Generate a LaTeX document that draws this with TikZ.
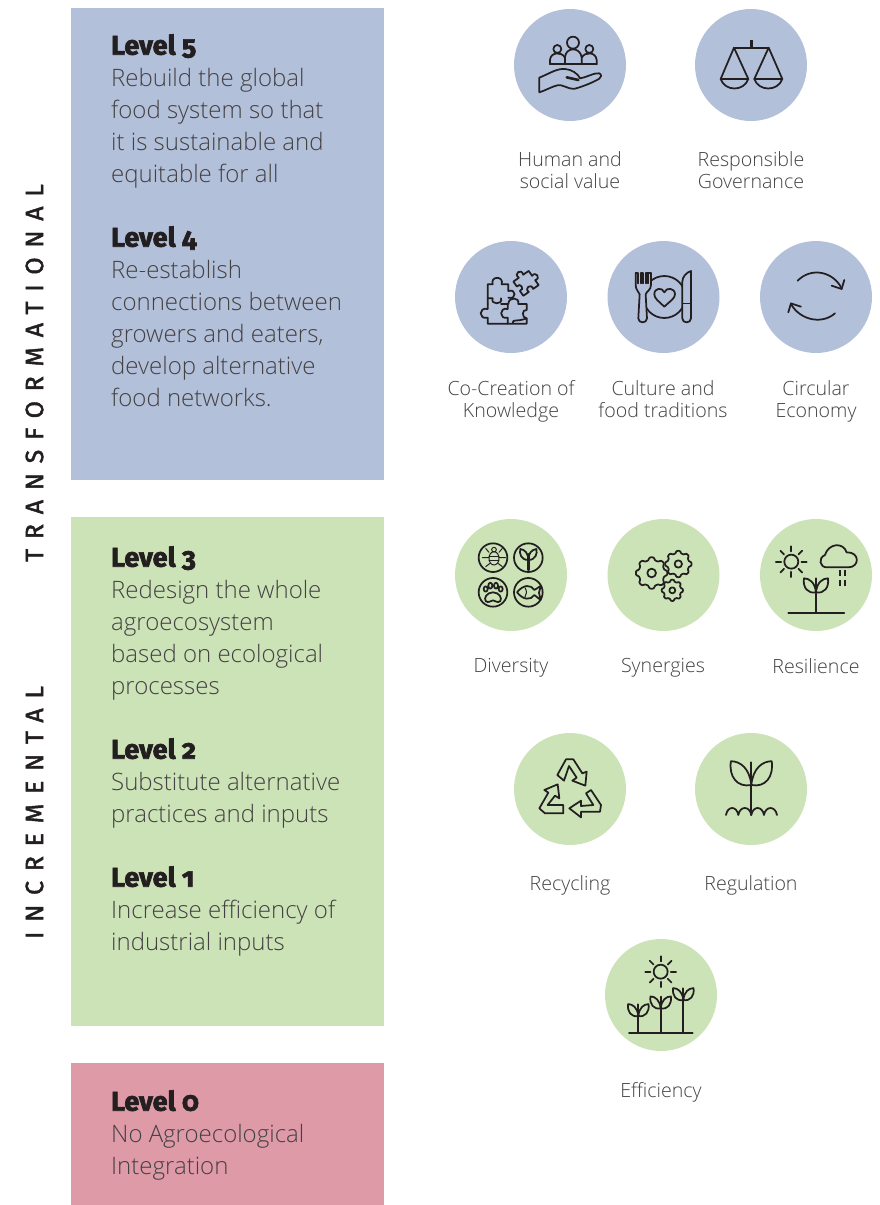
\documentclass[tikz,border=0pt]{standalone}
\usepackage{fontspec}
\setmainfont{Open Sans Light}
\newfontfamily\headfont[Numbers=OldStyle,BoldFeatures={FakeBold=2.5}]{Fira Sans}
\newfontfamily\sidefont[LetterSpace=39,FakeBold=1.8]{Fira Sans}
\definecolor{lvblue}{HTML}{B3C0DA}
\definecolor{lvgreen}{HTML}{CCE3B8}
\definecolor{lvred}{HTML}{DE9AA7}
\definecolor{ink}{HTML}{231F20}
\tikzset{
  panel/.style={draw=none,inner sep=0},
  bluecirc/.style={circle,fill=lvblue,minimum size=112pt,inner sep=0},
  greencirc/.style={circle,fill=lvgreen,minimum size=112pt,inner sep=0},
  bodytext/.style={anchor=north west,align=left,inner sep=0,text=ink!85,font=\fontsize{24}{32}\selectfont},
  iconlabel/.style={anchor=north,align=center,inner sep=0,text=ink!85,font=\fontsize{19.6}{22}\selectfont},
  sidelabel/.style={rotate=90,inner sep=0,text=ink,font=\fontsize{25}{25}\sidefont},
  icon/.style={draw=ink,line width=1.75pt,line join=round,line cap=round},
}
\newcommand{\lvh}[1]{{\color{ink}\headfont\bfseries\fontsize{27}{32}\selectfont #1}}
\newcommand{\mysun}[3]{\draw[icon] (#1,#2) circle (#3);
  \foreach \a in {0,45,...,315} {\draw[icon,shift={(#1,#2)}] (\a:#3*1.45) -- (\a:#3*2.2);}}
\newcommand{\mysprout}[3]{\begin{scope}[shift={(#1,#2)},scale=#3]
  \draw[icon] (0,0) .. controls (-25,5) and (-40,-15) .. (-36,-42) .. controls (-20,-42) and (-3,-30) .. (0,0);
  \draw[icon] (0,0) .. controls (25,5) and (40,-15) .. (36,-42) .. controls (20,-42) and (3,-30) .. (0,0);
\end{scope}}
\newcommand{\mygear}[4]{\draw[icon,shift={(#1,#2)}] plot[domain=0:356,samples=90,smooth] ({\x}:{#3+#3*0.1*tanh(2*cos(8*\x))}) -- cycle;
  \draw[icon] (#1,#2) circle (#4);}
\begin{document}
\begin{tikzpicture}[x=1pt,y=-1pt]
\useasboundingbox (0,0) rectangle (879,1205);
% panels
\fill[lvblue] (71,8) rectangle (384,480);
\fill[lvgreen] (71,517) rectangle (384,1026);
\fill[lvred] (71,1063) rectangle (384,1205);
% side labels
\node[sidelabel] (sideT) at (34.5,373) {TRANSFORMATIONAL};
\node[sidelabel] (sideI) at (34.5,812.5) {INCREMENTAL};
% level texts
\node[bodytext] (l5) at (111,34) {\lvh{Level 5}\\Rebuild the global\\food system so that\\it is sustainable and\\equitable for all};
\node[bodytext] (l4) at (111,226) {\lvh{Level 4}\\Re-establish\\connections between\\growers and eaters,\\develop alternative\\food networks.};
\node[bodytext] (l3) at (111,546) {\lvh{Level 3}\\Redesign the whole\\agroecosystem\\based on ecological\\processes};
\node[bodytext] (l2) at (111,738) {\lvh{Level 2}\\Substitute alternative\\practices and inputs};
\node[bodytext] (l1) at (111,866) {\lvh{Level 1}\\Increase efficiency of\\industrial inputs};
\node[bodytext] (l0) at (111,1090) {\lvh{Level 0}\\No Agroecological\\Integration};
% circles
\node[bluecirc] (c1) at (570,65) {};
\node[bluecirc] (c2) at (751,65) {};
\node[bluecirc] (c3) at (511,297) {};
\node[bluecirc] (c4) at (663.5,297) {};
\node[bluecirc] (c5) at (816,297) {};
\node[greencirc] (c6) at (511,575) {};
\node[greencirc] (c7) at (663.5,575) {};
\node[greencirc] (c8) at (816,575) {};
\node[greencirc] (c9) at (570,789) {};
\node[greencirc] (c10) at (751,789) {};
\node[greencirc] (c11) at (661,995) {};
% labels
\node[iconlabel] (t1) at (570,151.5) {Human and\\social value};
\node[iconlabel] (t2) at (751,151.5) {Responsible\\Governance};
\node[iconlabel] (t3) at (511,380.5) {Co-Creation of\\Knowledge};
\node[iconlabel] (t4) at (663,380.5) {Culture and\\food traditions};
\node[iconlabel] (t5) at (816,380.5) {Circular\\Economy};
\node[iconlabel] (t6) at (511,658.5) {Diversity};
\node[iconlabel] (t7) at (663,658.5) {Synergies};
\node[iconlabel] (t8) at (816,658.5) {Resilience};
\node[iconlabel] (t9) at (570,875.5) {Recycling};
\node[iconlabel] (t10) at (751,875.5) {Regulation};
\node[iconlabel] (t11) at (661,1082.5) {Efficiency};
% icons top row
\begin{scope}[shift={(500,0)},x=.3333pt,y=-.3333pt]
  \draw[icon] (219,128) circle (18);
  \draw[icon] (172,147) circle (12);
  \draw[icon] (268,147) circle (12);
  \draw[icon] (195,193) -- (195,172) .. controls (197,140) and (241,140) .. (245,172) -- (245,193);
  \draw[icon] (150,193) -- (150,180) .. controls (152,155) and (186,155) .. (194,172);
  \draw[icon] (290,193) -- (290,180) .. controls (288,155) and (254,155) .. (246,172);
  \draw[icon] (150,193) -- (290,193);
  \draw[icon] (118,277) -- (118,233) .. controls (150,220) and (170,205) .. (195,207) .. controls (215,208) and (235,222) .. (240,235) .. controls (260,232) and (285,217) .. (298,220) .. controls (306,224) and (304,232) .. (298,236) .. controls (275,250) and (240,262) .. (225,266) .. controls (200,268) and (190,252) .. (172,256) .. controls (155,260) and (135,272) .. (118,277);
  \draw[icon,line width=2.6pt] (200,232) -- (235,240);
  % scales
  \draw[icon,line width=2.6pt,line cap=butt] (754,120) -- (754,143);
  \draw[icon] (702,143) -- (806,143);
  \draw[icon] (662,237) -- (702,143) -- (745,237) -- cycle;
  \draw[icon] (763,237) -- (806,143) -- (847,237) -- cycle;
  \draw[icon] (662,237) .. controls (675,275) and (732,275) .. (745,237);
  \draw[icon] (763,237) .. controls (776,275) and (834,275) .. (847,237);
\end{scope}
\begin{scope}[shift={(445,235)},x=.3333pt,y=-.3333pt]
  % puzzle
  \draw[icon] (128,207) -- (128,148) -- (143,148) .. controls (135,122) and (178,122) .. (170,148) -- (190,148) -- (190,168) .. controls (215,160) and (215,195) .. (190,188);
  \draw[icon] (128,190) -- (143,190) .. controls (135,210) and (175,210) .. (168,190);
  \draw[icon] (128,207) -- (128,222) .. controls (100,215) and (100,255) .. (128,248) -- (128,266) -- (245,266) -- (245,250) .. controls (215,262) and (200,250) .. (204,266);
  \draw[icon] (188,207) -- (188,222) .. controls (162,215) and (162,255) .. (188,248) -- (188,266);
  \draw[icon] (168,207) -- (190,207) .. controls (190,185) and (225,185) .. (220,207) -- (245,207) -- (245,225) .. controls (230,222) and (230,250) .. (245,250);
  \begin{scope}[shift={(243,145)},rotate=35]
    \draw[icon] (-28,-26) -- (-8,-26) .. controls (-16,-46) and (16,-46) .. (8,-26) -- (28,-26) -- (28,-8) .. controls (46,-14) and (46,14) .. (28,8) -- (28,26) -- (8,26) .. controls (14,8) and (-14,8) .. (-8,26) -- (-28,26) -- (-28,8) .. controls (-12,14) and (-12,-14) .. (-28,-8) -- cycle;
  \end{scope}
  % plate
  \draw[icon] (658,186) circle (63);
  \draw[icon] (658,215) .. controls (640,198) and (628,190) .. (628,178) .. controls (628,158) and (652,156) .. (658,172) .. controls (664,156) and (690,158) .. (690,178) .. controls (690,190) and (676,198) .. (658,215) -- cycle;
  \fill[lvblue] (572,115) -- (618,115) -- (618,150) -- (606,178) -- (606,262) -- (580,262) -- (580,178) -- (572,150) -- cycle;
  \draw[icon] (572,115) -- (572,150) .. controls (572,165) and (582,170) .. (584,178) -- (580,250) .. controls (580,266) and (606,266) .. (606,250) -- (602,178) .. controls (604,170) and (618,165) .. (618,150) -- (618,115);
  \draw[icon] (572,115) -- (580,115) -- (580,145) (587,145) -- (587,115) -- (595,115) -- (595,145) (603,145) -- (603,115) -- (610,115) -- (610,145) (610,115) -- (618,115);
  \draw[icon,fill=lvblue] (738,108) -- (738,250) .. controls (738,266) and (712,266) .. (712,250) -- (712,208) -- (712,140) .. controls (712,125) and (725,112) .. (738,108) -- cycle;
  \draw[icon,line width=1pt] (712,205) -- (738,205);
  % circular
  \draw[icon] (1058,137) .. controls (1100,95) and (1165,110) .. (1190,160);
  \draw[icon] (1198,135) -- (1190,162) -- (1160,152);
  \draw[icon] (1170,235) .. controls (1130,270) and (1065,255) .. (1038,207);
  \draw[icon] (1030,232) -- (1038,205) -- (1068,215);
\end{scope}
\begin{scope}[shift={(445,515)},x=.3333pt,y=-.3333pt]
  % diversity
  \foreach \p in {(144,128),(250,128),(144,232),(250,232)} {\draw[icon] \p circle (43);}
  \draw[icon,line width=1pt] (147,130) ellipse (15 and 20);
  \draw[icon,line width=1pt] (147,104) circle (7);
  \draw[icon,line width=1pt] (132,125) -- (162,125) (132,137) -- (162,137);
  \draw[icon,line width=1pt] (132,112) -- (122,100) (162,112) -- (172,100) (132,128) -- (112,128) (162,128) -- (182,128) (135,145) -- (122,155) (159,145) -- (172,155);
  \draw[icon,line width=2.4pt] (250,165) -- (250,118);
  \draw[icon] (250,135) .. controls (228,135) and (222,115) .. (226,102) .. controls (240,104) and (250,115) .. (250,135);
  \draw[icon] (250,135) .. controls (272,135) and (278,115) .. (274,102) .. controls (260,104) and (250,115) .. (250,135);
  \draw[icon] (144,232) .. controls (125,232) and (116,250) .. (122,258) .. controls (130,266) and (138,256) .. (144,256) .. controls (150,256) and (158,266) .. (166,258) .. controls (172,250) and (163,232) .. (144,232) -- cycle;
  \draw[icon] (122,222) ellipse (6 and 8) (136,212) ellipse (6 and 9) (153,212) ellipse (6 and 9) (167,222) ellipse (6 and 8);
  \draw[icon] (216,232) .. controls (235,208) and (258,208) .. (268,225) -- (287,213) -- (282,233) -- (287,255) -- (268,240) .. controls (258,256) and (235,256) .. (216,232) -- cycle;
  \draw[icon,line width=1pt] (240,218) .. controls (246,228) and (246,238) .. (240,246);
  % gears
  \mygear{620}{174}{43}{13}
  \mygear{700}{147}{36}{11}
  \mygear{682}{226}{29}{9}
  % resilience
  \mysun{1039}{140}{21}
  \draw[icon] (1145,157) .. controls (1125,157) and (1118,130) .. (1140,120) .. controls (1150,85) and (1195,80) .. (1205,112) .. controls (1245,110) and (1245,157) .. (1210,157) -- cycle;
  \draw[icon,line cap=butt] (1185,165) -- (1185,182) (1201,165) -- (1201,182) (1185,195) -- (1185,212) (1201,195) -- (1201,212);
  \draw[icon] (1030,293) -- (1198,293);
  \draw[icon] (1113,190) -- (1113,293);
  \mysprout{1113}{232}{1}
\end{scope}
\begin{scope}[shift={(505,730)},x=.3333pt,y=-.3333pt]
  % recycling
  \draw[icon] (157,135) -- (183,88) -- (205,88) -- (232,130) -- (245,125) -- (241,167) -- (202,152) -- (215,143) -- (192,108) -- (177,152) -- cycle;
  \draw[icon] (118,180) -- (158,163) -- (163,205) -- (150,197) -- (128,225) -- (175,225) -- (175,250) -- (120,250) -- (103,235) -- (130,188) -- cycle;
  \draw[icon] (193,235) -- (228,212) -- (228,228) -- (265,225) -- (243,190) -- (258,180) -- (288,225) -- (285,245) -- (228,245) -- (228,262) -- cycle;
  % regulation
  \draw[icon] (739,97) -- (739,255);
  \mysprout{739}{165}{1.7}
  \draw[icon] (663,255) .. controls (668,227) and (695,227) .. (700,255) .. controls (705,227) and (734,227) .. (739,255) .. controls (744,227) and (772,227) .. (777,255) .. controls (782,227) and (811,227) .. (816,255);
\end{scope}
\begin{scope}[shift={(600,935)},x=.3333pt,y=-.3333pt]
  \mysun{182}{110}{21}
  \draw[icon] (87,295) -- (278,295);
  \draw[icon] (115,208) -- (115,295);
  \draw[icon] (182,185) -- (182,295);
  \draw[icon] (250,160) -- (250,295);
  \mysprout{115}{243}{.85}
  \mysprout{182}{220}{.85}
  \mysprout{250}{195}{.85}
\end{scope}
\end{tikzpicture}
\end{document}
